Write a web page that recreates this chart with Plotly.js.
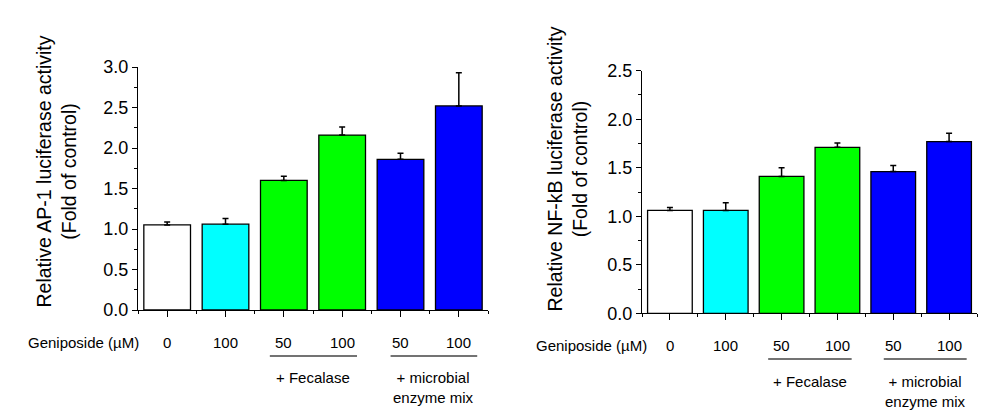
<!DOCTYPE html>
<html>
<head>
<meta charset="utf-8">
<script src="https://cdn.plot.ly/plotly-3.0.1.min.js"></script>
<style>html,body{margin:0;padding:0;background:#fff;}#chart{width:1004px;height:413px;}</style>
</head>
<body>
<div id="chart"></div>
<script>
// ---- data ----
const categories = [0, 1, 2, 3, 4, 5];
const doseLabels = ["0", "100", "50", "100", "50", "100"];
const barColors = ["#FFFFFF", "#00FFFF", "#00FF00", "#00FF00", "#0000FF", "#0000FF"];
const ap1Values = [1.05, 1.06, 1.60, 2.16, 1.86, 2.52];
const ap1Errors = [0.035, 0.07, 0.05, 0.10, 0.075, 0.41];
const nfkbValues = [1.06, 1.06, 1.41, 1.71, 1.46, 1.77];
const nfkbErrors = [0.03, 0.08, 0.09, 0.045, 0.062, 0.085];
const leftTitle = "Relative AP-1 luciferase activity<br>(Fold of control)";
const rightTitle = "Relative NF-kB luciferase activity<br>(Fold of control)";
const xTitle = "Geniposide (µM)";
const groupLabels = ["+ Fecalase", "+ microbial<br>enzyme mix"];
const groupMembers = [[2, 3], [4, 5]];

const FONT = "Arial, 'Liberation Sans', sans-serif";
const W = 1004, H = 413;
const px = v => v / W;
const py = v => 1 - v / H;

function barTrace(vals, errs, xa, ya) {
  return {
    type: "bar", x: categories, y: vals, width: 0.8,
    xaxis: xa, yaxis: ya,
    marker: {color: barColors, line: {color: "#000", width: 1.3}},
    error_y: {type: "data", symmetric: false, array: errs,
      arrayminus: errs.map(() => 0), color: "#000", thickness: 1.5, width: 3},
    hoverinfo: "none", showlegend: false
  };
}

function xAxis(dom) {
  return {
    domain: dom, range: [-0.5, 5.5], showgrid: false, zeroline: false,
    showline: true, linecolor: "#000", linewidth: 1,
    tickmode: "array", tickvals: categories, ticks: "outside", ticklen: 6,
    tickcolor: "#000", showticklabels: false, fixedrange: true,
    minor: {tickmode: "linear", tick0: 0.5, dtick: 1, ticks: "outside", ticklen: 3, tickcolor: "#000"}
  };
}
function yAxis(dom, max) {
  return {
    domain: dom, range: [0, max], showgrid: false, zeroline: false,
    showline: true, linecolor: "#000", linewidth: 1,
    dtick: 0.5, tick0: 0, tickformat: ".1f", ticks: "outside", ticklen: 5,
    tickcolor: "#000", tickfont: {family: FONT, size: 18, color: "#000"},
    fixedrange: true,
    minor: {dtick: 0.25, ticks: "outside", ticklen: 3, tickcolor: "#000"}
  };
}

const ann = [];
const shapes = [];
function addLabels(xref, yDose, yGroup, yLine, titleX, titleY, title, xTitleX) {
  ann.push({text: title, xref: "paper", yref: "paper", x: px(titleX), y: py(titleY),
    xanchor: "center", yanchor: "middle", textangle: -90, showarrow: false,
    font: {family: FONT, size: 19.5, color: "#000"}});
  ann.push({text: xTitle, xref: "paper", yref: "paper", x: px(xTitleX), y: py(yDose),
    xanchor: "center", yanchor: "middle", showarrow: false,
    font: {family: FONT, size: 15, color: "#000"}});
  categories.forEach((c, i) => ann.push({text: doseLabels[i], xref: xref, yref: "paper",
    x: c, y: py(yDose), xanchor: "center", yanchor: "middle", showarrow: false,
    font: {family: FONT, size: 15, color: "#000"}}));
  const offs = [[-0.24, 0.255], [-0.17, 0.315]];
  groupMembers.forEach((g, k) => {
    const x0 = g[0] + offs[k][0], x1 = g[g.length - 1] + offs[k][1];
    shapes.push({type: "line", xref: xref, yref: "paper", x0: x0, x1: x1,
      y0: py(yLine), y1: py(yLine), line: {color: "#444", width: 1.5}});
    ann.push({text: groupLabels[k], xref: xref, yref: "paper", x: (x0 + x1) / 2,
      y: py(yGroup), xanchor: "center", yanchor: "top", showarrow: false,
      font: {family: FONT, size: 15, color: "#000"}});
  });
}
addLabels("x", 342, 367, 356, 55.5, 172, leftTitle, 83);
addLabels("x2", 345, 371, 359, 566.5, 169, rightTitle, 591);

const layout = {
  width: W, height: H, margin: {l: 0, r: 0, t: 0, b: 0},
  paper_bgcolor: "#fff", plot_bgcolor: "rgba(0,0,0,0)",
  bargap: 0.2, showlegend: false,
  xaxis: xAxis([px(138), px(488)]),
  yaxis: yAxis([py(310), py(67)], 3),
  xaxis2: xAxis([px(642), px(977)]),
  yaxis2: yAxis([py(313.3), py(70.7)], 2.5),
  annotations: ann, shapes: shapes
};
layout.xaxis.anchor = "y"; layout.yaxis.anchor = "x";
layout.xaxis2.anchor = "y2"; layout.yaxis2.anchor = "x2";

Plotly.newPlot("chart", [
  barTrace(ap1Values, ap1Errors, "x", "y"),
  barTrace(nfkbValues, nfkbErrors, "x2", "y2")
], layout, {staticPlot: true});
</script>
</body>
</html>
